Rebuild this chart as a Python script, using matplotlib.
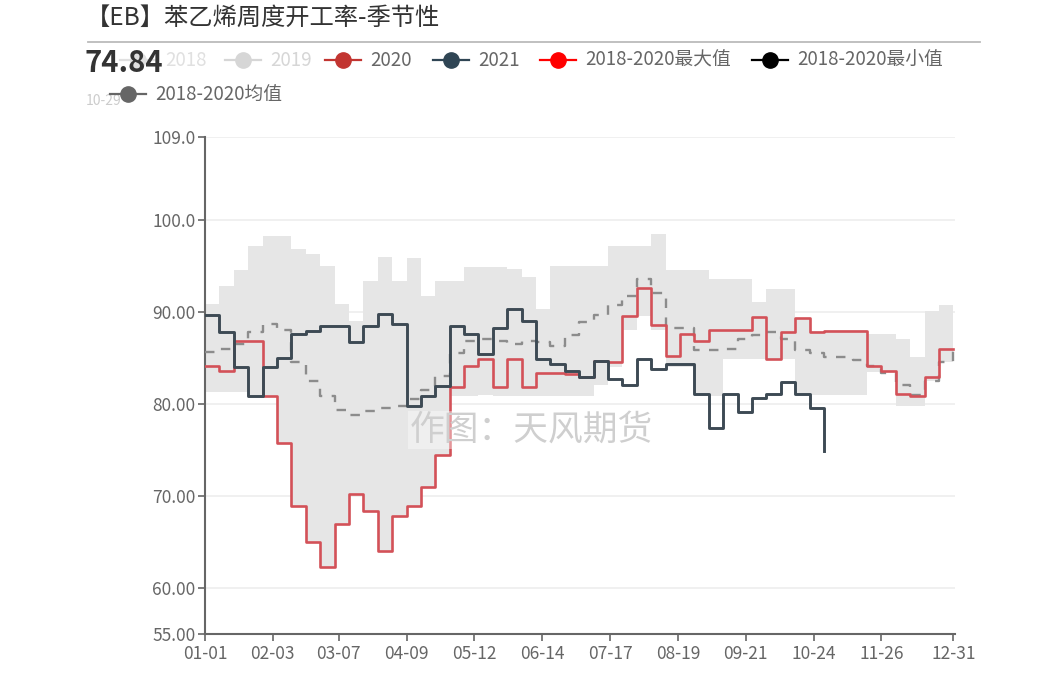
import numpy as np
import matplotlib
matplotlib.use("Agg")
from matplotlib import pyplot as plt
from matplotlib.lines import Line2D

plt.rcParams['font.family'] = ['Noto Sans CJK SC', 'DejaVu Sans']

# ---------------- data (weekly, week 0 = 01-01) ----------------
tick_days = [0, 33, 65, 98, 131, 164, 197, 230, 263, 296, 329, 364]
tick_labels = ['01-01', '02-03', '03-07', '04-09', '05-12', '06-14',
               '07-17', '08-19', '09-21', '10-24', '11-26', '12-31']
y_ticks = [55, 60, 70, 80, 90, 100, 109]
y_tick_labels = ['55.00', '60.00', '70.00', '80.00', '90.00', '100.0', '109.0']

v2020 = [84.1, 83.6, 86.8, 86.8, 80.9, 75.7, 68.9, 65.0, 62.3, 67.0,
         70.2, 68.4, 64.0, 67.8, 68.9, 71.0, 74.4, 81.8, 84.1, 84.9,
         81.8, 84.9, 81.8, 83.3, 83.3, 83.2, 82.9, 84.7, 84.6, 89.5,
         92.6, 88.6, 85.2, 87.6, 86.8, 88.0, 88.0, 88.0, 89.4, 84.9,
         87.8, 89.3, 87.8, 87.9, 87.9, 87.9, 84.1, 83.6, 81.1, 80.9,
         82.9, 86.0, 86.0]

v2021 = [89.6, 87.8, 84.0, 80.8, 84.0, 85.0, 87.6, 87.9, 88.5, 88.5,
         86.7, 88.5, 89.8, 88.7, 79.8, 80.9, 81.9, 88.5, 87.6, 85.4,
         88.2, 90.3, 89.0, 84.9, 84.3, 83.6, 82.9, 84.7, 82.7, 82.0,
         84.9, 83.8, 84.3, 84.3, 81.1, 77.4, 81.1, 79.1, 80.6, 81.1,
         82.4, 81.1, 79.5, 74.84]

v_max = [90.9, 92.8, 94.5, 97.2, 98.2, 98.2, 96.8, 96.3, 95.0, 90.9,
         89.0, 93.3, 96.0, 93.4, 95.8, 91.7, 93.3, 93.3, 94.9, 94.9,
         94.9, 94.7, 93.8, 90.3, 95.0, 95.0, 95.0, 95.0, 97.2, 97.2,
         97.2, 98.5, 94.5, 94.5, 94.5, 93.6, 93.6, 93.6, 91.1, 92.5,
         92.5, 89.3, 87.9, 88.0, 88.0, 88.0, 87.6, 87.6, 87.0, 85.1,
         90.1, 90.7, 90.7]

v_min = [81.3, 81.3, 81.3, 80.9, 80.9, 75.7, 68.9, 65.0, 62.3, 67.0,
         70.2, 68.4, 64.0, 67.8, 68.9, 71.0, 74.4, 80.8, 80.8, 81.0,
         80.8, 80.8, 80.8, 80.8, 80.8, 80.8, 80.8, 82.0, 84.0, 88.0,
         89.5, 88.0, 84.0, 84.0, 80.9, 80.9, 84.9, 84.9, 84.9, 84.9,
         84.9, 81.0, 81.0, 81.0, 81.0, 81.0, 83.5, 83.5, 79.8, 79.8,
         82.5, 84.5, 85.0]

v_mean = [85.6, 86.0, 86.5, 87.8, 88.7, 88.0, 84.5, 82.5, 80.9, 79.3,
          78.8, 79.2, 79.5, 79.8, 80.5, 81.5, 83.0, 85.5, 86.8, 87.0,
          86.8, 86.5, 86.8, 86.7, 86.3, 87.5, 88.9, 89.6, 90.7, 91.7,
          93.6, 92.0, 88.2, 88.2, 85.8, 85.8, 86.0, 87.1, 87.5, 87.8,
          87.1, 85.8, 85.5, 85.1, 85.1, 84.8, 84.1, 83.4, 82.0, 81.0,
          82.5, 84.5, 86.3]

days_all = np.arange(len(v2020)) * 7
days_2021 = np.arange(len(v2021)) * 7

# ---------------- figure ----------------
fig = plt.figure(figsize=(10.6, 6.88), dpi=100, facecolor='white')
ax = fig.add_axes([0.1934, 0.0785, 0.708, 0.7225])

ax.fill_between(days_all, v_min, v_max, step='post', color='#e6e6e6', lw=0, zorder=1)
ax.step(days_all, v_mean, where='post', color='#8c8c8c', lw=1.7,
        dashes=(4, 4), zorder=3)
ax.step(days_all, v2020, where='post', color='#d35158', lw=1.9, zorder=4)
ax.step(days_2021, v2021, where='post', color='#3d4a54', lw=2.1, zorder=5)

ax.set_xlim(0, 365)
ax.set_ylim(55, 109)
ax.set_xticks(tick_days)
ax.set_xticklabels(tick_labels)
ax.set_yticks(y_ticks)
ax.set_yticklabels(y_tick_labels)
ax.tick_params(colors='#666666', labelsize=12.5, length=5, width=1.2,
               labelcolor='#666666')
ax.tick_params(axis='x', pad=3)
ax.tick_params(axis='y', pad=2)
for s in ['top', 'right']:
    ax.spines[s].set_visible(False)
for s in ['left', 'bottom']:
    ax.spines[s].set_color('#666666')
    ax.spines[s].set_linewidth(1.5)
ax.grid(axis='y', color='#eeeeee', lw=1.2, zorder=0)
ax.set_axisbelow(True)

# watermark
ax.text(0.273, 0.41, '作图：天风期货', transform=ax.transAxes, fontsize=25,
        color='#cfcfcf', ha='left', va='center', zorder=6,
        bbox=dict(facecolor='white', alpha=0.4, edgecolor='none', pad=1))

# ---------------- header ----------------
W, H = 1060.0, 688.0
fig.text(86 / W, 1 - 18 / H, '【EB】苯乙烯周度开工率-季节性', fontsize=17.5,
         color='#333333', va='center', ha='left', fontweight='medium')
fig.add_artist(Line2D([88 / W, 980 / W], [1 - 42 / H, 1 - 42 / H],
                      color='#bbbbbb', lw=1.3))


def legend_item(x, y, color, label, txt_color='#666666'):
    yy = 1 - y / H
    fig.add_artist(Line2D([x / W, (x + 36) / W], [yy, yy], color=color, lw=1.6))
    fig.add_artist(Line2D([(x + 18) / W], [yy], marker='o', markersize=11,
                          color=color, lw=0))
    fig.text((x + 45) / W, yy, label, fontsize=13.5, color=txt_color,
             va='center', ha='left')


legend_item(120, 60, '#e0e0e0', '2018', '#e0e0e0')
legend_item(225, 60, '#d6d6d6', '2019', '#d6d6d6')
legend_item(325, 60, '#c23531', '2020')
legend_item(433, 60, '#2f4554', '2021')
legend_item(540, 60, '#ff0000', '2018-2020最大值')
legend_item(752, 60, '#000000', '2018-2020最小值')
legend_item(110, 94, '#666666', '2018-2020均值')

fig.text(84 / W, 1 - 63 / H, '74.84', fontsize=21, fontweight='bold',
         color='#333333', va='center', ha='left')
fig.text(86 / W, 1 - 101 / H, '10-29', fontsize=10, color='#cccccc',
         va='center', ha='left', zorder=0)

fig.savefig('out.png', dpi=100, facecolor='white')
